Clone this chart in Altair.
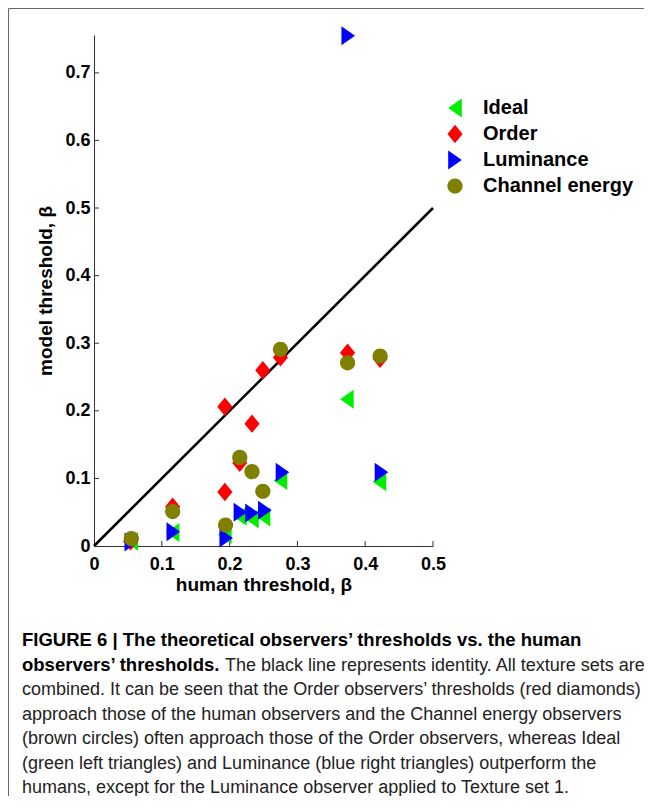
import altair as alt
import pandas as pd

# ---------------- data ----------------
observers = ["Ideal", "Order", "Luminance", "Channel energy"]
colors = ["#00ee00", "#ff0000", "#0000ff", "#808000"]
# marker paths (unit box -1..1), shared symbol size
shapes = [
    "M-0.68,0L0.68,-0.95L0.68,0.95Z",                     # left triangle
    "M0,-0.92L0.76,0L0,0.92L-0.76,0Z",                    # diamond
    "M0.68,0L-0.68,-0.95L-0.68,0.95Z",                    # right triangle
    "M0.76,0A0.76,0.76 0 1,1 -0.76,0A0.76,0.76 0 1,1 0.76,0Z",  # circle
]

ideal_x = [0.055, 0.116, 0.193, 0.215, 0.233, 0.250, 0.275, 0.373, 0.421]
ideal_y = [0.007, 0.020, 0.017, 0.044, 0.040, 0.043, 0.097, 0.217, 0.095]

order_x = [0.054, 0.116, 0.193, 0.193, 0.215, 0.233, 0.249, 0.275, 0.374, 0.422]
order_y = [0.007, 0.058, 0.206, 0.080, 0.123, 0.181, 0.260, 0.279, 0.286, 0.277]

lum_x = [0.055, 0.117, 0.195, 0.216, 0.233, 0.252, 0.278, 0.375, 0.424]
lum_y = [0.006, 0.021, 0.012, 0.050, 0.049, 0.053, 0.109, 0.755, 0.109]

chan_x = [0.055, 0.116, 0.194, 0.215, 0.233, 0.249, 0.275, 0.374, 0.422]
chan_y = [0.011, 0.051, 0.031, 0.131, 0.110, 0.081, 0.291, 0.271, 0.281]

identity = [0.0, 0.5]
x_ticks = [0, 0.1, 0.2, 0.3, 0.4, 0.5]
y_ticks = [0, 0.1, 0.2, 0.3, 0.4, 0.5, 0.6, 0.7]
y_max = 0.756

caption_bold_1 = "FIGURE 6 | The theoretical observers\u2019 thresholds vs. the human"
caption_bold_2 = "observers\u2019 thresholds."
caption_rest_2 = "The black line represents identity. All texture sets are"
caption_lines = [
    "combined. It can be seen that the Order observers\u2019 thresholds (red diamonds)",
    "approach those of the human observers and the Channel energy observers",
    "(brown circles) often approach those of the Order observers, whereas Ideal",
    "(green left triangles) and Luminance (blue right triangles) outperform the",
    "humans, except for the Luminance observer applied to Texture set 1.",
]

rows = []
for name, xs, ys in [("Ideal", ideal_x, ideal_y), ("Order", order_x, order_y),
                     ("Luminance", lum_x, lum_y), ("Channel energy", chan_x, chan_y)]:
    for a, b in zip(xs, ys):
        rows.append({"observer": name, "human": a, "model": b})
df = pd.DataFrame(rows)

W, H = 339, 511
PAD_B = 250
PAD_R = 211
FONT = "Liberation Sans"

x_scale = alt.Scale(domain=[0, 0.5], nice=False, zero=True)
y_scale = alt.Scale(domain=[0, y_max], nice=False, zero=True)

x_axis = alt.Axis(title="human threshold, \u03b2", values=x_ticks, format="~g", ticks=False,
                  grid=False, domainColor="#333333", domainWidth=1, labelFlush=False,
                  labelFont=FONT, labelFontWeight="bold", labelFontSize=18, labelColor="black",
                  labelPadding=9, titleFont=FONT, titleFontWeight="bold", titleFontSize=19,
                  titleColor="black", titlePadding=2)
y_axis = alt.Axis(title="model threshold, \u03b2", values=y_ticks, format="~g", ticks=False,
                  grid=False, domainColor="#333333", domainWidth=1, labelFlush=False,
                  labelFont=FONT, labelFontWeight="bold", labelFontSize=18, labelColor="black",
                  labelPadding=4, titleFont=FONT, titleFontWeight="bold", titleFontSize=19,
                  titleColor="black", titlePadding=9)

legend = alt.Legend(title=None, orient="none", legendX=351, legendY=63, padding=0,
                    labelFont=FONT, labelFontSize=20, labelFontWeight="bold", labelColor="black",
                    symbolSize=400, symbolStrokeWidth=0, rowPadding=6, labelOffset=18)

line = alt.Chart(pd.DataFrame({"human": identity, "model": identity})).mark_line(
    color="black", strokeWidth=2.6
).encode(
    x=alt.X("human:Q", scale=x_scale, axis=x_axis),
    y=alt.Y("model:Q", scale=y_scale, axis=y_axis),
)

points = alt.Chart(df).mark_point(filled=True, opacity=1, size=400, strokeWidth=0).encode(
    x=alt.X("human:Q", scale=x_scale, axis=x_axis),
    y=alt.Y("model:Q", scale=y_scale, axis=y_axis),
    color=alt.Color("observer:N", scale=alt.Scale(domain=observers, range=colors),
                    sort=observers, legend=legend),
    shape=alt.Shape("observer:N", scale=alt.Scale(domain=observers, range=shapes),
                    sort=observers, legend=legend),
)

xt = alt.Chart(pd.DataFrame({"human": x_ticks[1:]})).mark_rule(color="#333333", strokeWidth=1).encode(
    x=alt.X("human:Q", scale=x_scale, axis=x_axis), y=alt.value(H), y2=alt.value(H - 5)
)
yt = alt.Chart(pd.DataFrame({"model": y_ticks[1:]})).mark_rule(color="#333333", strokeWidth=1).encode(
    y=alt.Y("model:Q", scale=y_scale, axis=y_axis), x=alt.value(0), x2=alt.value(5)
)

# figure frame: only its top and left edges fall inside the page
frame = alt.Chart(pd.DataFrame({"a": [0]})).mark_rect(
    fill="transparent", stroke="#666666", strokeWidth=1
).encode(
    x=alt.value(-85.5), x2=alt.value(W + PAD_R + 40),
    y=alt.value(-26.5), y2=alt.value(H + PAD_B + 40),
)

# white strip over the chart's right edge
cover = alt.Chart(pd.DataFrame({"a": [0]})).mark_rect(fill="white", stroke="transparent").encode(
    x=alt.value(W + PAD_R - 2), x2=alt.value(W + PAD_R + 10),
    y=alt.value(-25.5), y2=alt.value(590),
)

CAP_X = -72
CAP_Y0 = 611
CAP_DY = 24.5


def cap(text, x, y, bold):
    return alt.Chart(pd.DataFrame({"t": [text]})).mark_text(
        align="left", baseline="alphabetic", font=FONT, fontSize=18.5 if bold else 18,
        fontWeight="bold" if bold else "normal", color="black" if bold else "#222222"
    ).encode(text="t:N", x=alt.value(x), y=alt.value(y))


caps = [cap(caption_bold_1, CAP_X, CAP_Y0, True),
        cap(caption_bold_2, CAP_X, CAP_Y0 + CAP_DY, True),
        cap(caption_rest_2, CAP_X + 203, CAP_Y0 + CAP_DY, False)]
for i, t in enumerate(caption_lines):
    caps.append(cap(t, CAP_X, CAP_Y0 + CAP_DY * (i + 2), False))

chart = alt.layer(frame, line, xt, yt, points, *caps, cover).properties(
    width=W, height=H,
    padding={"left": 86, "top": 27, "right": PAD_R, "bottom": PAD_B},
    autosize=alt.AutoSizeParams(type="none"),
    background="white",
).configure_view(stroke="transparent")

chart.save("out.html", embed_options={"renderer": "svg", "actions": False})
